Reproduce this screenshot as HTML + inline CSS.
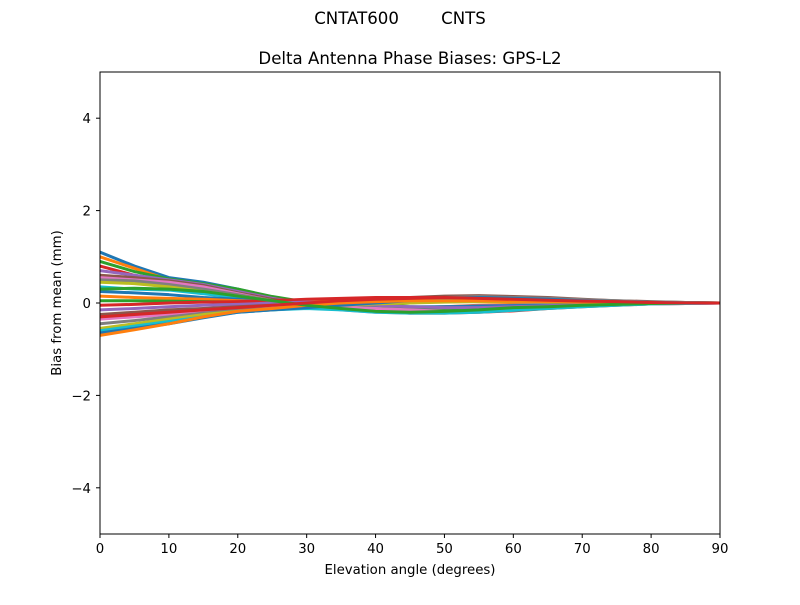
<!DOCTYPE html>
<html><head><meta charset="utf-8"><style>
body{margin:0;background:#fff}
svg text{font-family:"DejaVu Sans","Liberation Sans",sans-serif;fill:#000}
</style></head><body>
<svg id="chart" width="800" height="600" xmlns="http://www.w3.org/2000/svg">
<rect width="800" height="600" fill="#fff"/>
<text x="400" y="24" font-size="16.6" text-anchor="middle" xml:space="preserve">CNTAT600        CNTS</text>
<text x="410" y="64" font-size="16.6" text-anchor="middle">Delta Antenna Phase Biases: GPS-L2</text>
<g id="lines"></g>
<g id="axes"></g>
<rect x="100" y="72" width="620" height="462" fill="none" stroke="#000" stroke-width="1"/>
<text x="410" y="574" font-size="13.3" text-anchor="middle">Elevation angle (degrees)</text>
<text transform="translate(61,303) rotate(-90)" font-size="13.3" text-anchor="middle">Bias from mean (mm)</text>
</svg>
<script>
const elevations=[0,5,10,15,20,25,30,35,40,45,50,55,60,65,70,75,80,85,90];
const xTicks=[0,10,20,30,40,50,60,70,80,90];
const yTicks=[-4,-2,0,2,4];
const yTickLabels=["\u22124","\u22122","0","2","4"];
const s1=[1.1,0.8,0.55,0.45,0.3,0.12,-0.05,-0.12,-0.15,-0.15,-0.12,-0.1,-0.08,-0.05,-0.03,-0.02,-0.01,0,0];
const s2=[1.0,0.75,0.5,0.4,0.28,0.1,-0.03,-0.1,-0.12,-0.1,-0.08,-0.05,-0.03,-0.02,-0.01,0,0,0,0];
const s3=[0.9,0.68,0.52,0.42,0.3,0.14,0.02,-0.05,-0.05,0,0.05,0.08,0.1,0.08,0.06,0.04,0.02,0.01,0];
const s4=[0.8,0.6,0.45,0.35,0.25,0.1,0,-0.1,-0.18,-0.22,-0.22,-0.2,-0.17,-0.12,-0.08,-0.05,-0.02,-0.01,0];
const s5=[0.7,0.6,0.5,0.4,0.25,0.1,-0.02,-0.08,-0.1,-0.1,-0.08,-0.06,-0.05,-0.04,-0.03,-0.02,-0.01,0,0];
const s6=[0.6,0.55,0.48,0.38,0.22,0.08,0,0.05,0.1,0.12,0.15,0.16,0.14,0.12,0.08,0.05,0.03,0.01,0];
const s7=[0.55,0.5,0.45,0.35,0.2,0.05,-0.05,-0.15,-0.2,-0.22,-0.2,-0.15,-0.12,-0.1,-0.07,-0.04,-0.02,-0.01,0];
const s8=[0.5,0.48,0.4,0.3,0.18,0.05,0.02,0.04,0.06,0.08,0.1,0.12,0.12,0.1,0.07,0.05,0.02,0.01,0];
const s9=[0.45,0.42,0.35,0.25,0.15,0.05,-0.02,-0.05,-0.08,-0.1,-0.12,-0.1,-0.08,-0.06,-0.04,-0.02,-0.01,0,0];
const s10=[0.35,0.3,0.28,0.2,0.12,0.04,0,0,0.02,0.04,0.06,0.06,0.05,0.04,0.03,0.02,0.01,0,0];
const s11=[0.25,0.22,0.18,0.12,0.08,0.02,-0.02,-0.05,-0.07,-0.08,-0.08,-0.07,-0.06,-0.05,-0.03,-0.02,-0.01,0,0];
const s12=[0.15,0.12,0.1,0.08,0.05,0.02,0.05,0.08,0.1,0.1,0.1,0.09,0.08,0.06,0.04,0.03,0.01,0,0];
const s13=[0.05,0.05,0.04,0.03,0.02,0,-0.03,-0.06,-0.1,-0.12,-0.14,-0.12,-0.1,-0.08,-0.05,-0.03,-0.01,0,0];
const s14=[-0.05,-0.03,0,0.02,0.03,0.05,0.08,0.1,0.12,0.12,0.12,0.1,0.08,0.06,0.04,0.02,0.01,0,0];
const s15=[-0.15,-0.12,-0.08,-0.05,-0.03,0,0.02,0,-0.05,-0.08,-0.1,-0.1,-0.08,-0.06,-0.04,-0.02,-0.01,0,0];
const s16=[-0.25,-0.2,-0.15,-0.12,-0.08,-0.05,-0.02,0.02,0.05,0.07,0.08,0.08,0.07,0.05,0.04,0.02,0.01,0,0];
const s17=[-0.35,-0.3,-0.25,-0.18,-0.12,-0.08,-0.05,-0.08,-0.12,-0.15,-0.18,-0.16,-0.12,-0.1,-0.07,-0.04,-0.02,-0.01,0];
const s18=[-0.45,-0.38,-0.3,-0.22,-0.15,-0.12,-0.08,-0.02,0.03,0.08,0.12,0.14,0.12,0.1,0.07,0.04,0.02,0.01,0];
const s19=[-0.55,-0.45,-0.35,-0.25,-0.18,-0.15,-0.1,-0.05,-0.02,0,0.02,0.03,0.03,0.02,0.02,0.01,0,0,0];
const s20=[-0.6,-0.5,-0.4,-0.3,-0.2,-0.15,-0.12,-0.15,-0.2,-0.22,-0.22,-0.2,-0.16,-0.12,-0.08,-0.05,-0.02,-0.01,0];
const s21=[-0.65,-0.55,-0.45,-0.32,-0.2,-0.15,-0.1,-0.05,0,0.05,0.1,0.12,0.1,0.08,0.05,0.03,0.01,0,0];
const s22=[-0.7,-0.58,-0.45,-0.3,-0.18,-0.12,-0.05,0,0.03,0.05,0.05,0.05,0.04,0.03,0.02,0.01,0,0,0];
const s23=[0.3,0.32,0.3,0.25,0.15,0.05,-0.05,-0.12,-0.18,-0.2,-0.18,-0.15,-0.1,-0.08,-0.05,-0.03,-0.01,0,0];
const s24=[-0.3,-0.25,-0.2,-0.15,-0.1,-0.05,0,0.05,0.08,0.1,0.12,0.1,0.08,0.06,0.04,0.03,0.01,0,0];
const series=[s1,s2,s3,s4,s5,s6,s7,s8,s9,s10,s11,s12,s13,s14,s15,s16,s17,s18,s19,s20,s21,s22,s23,s24];
const colors=["#1f77b4","#ff7f0e","#2ca02c","#d62728","#9467bd","#8c564b","#e377c2","#7f7f7f","#bcbd22","#17becf"];
const NS="http://www.w3.org/2000/svg";
const X=v=>100+v/90*620;
const Y=v=>303-v*46.2;
const lines=document.getElementById('lines');
series.forEach((s,i)=>{
  const p=document.createElementNS(NS,'polyline');
  p.setAttribute('points',s.map((v,j)=>X(elevations[j])+','+Y(v)).join(' '));
  p.setAttribute('fill','none');
  p.setAttribute('stroke',colors[i%10]);
  p.setAttribute('stroke-width','3');
  p.setAttribute('stroke-linejoin','round');
  
  
  lines.appendChild(p);
});
const axes=document.getElementById('axes');
xTicks.forEach(t=>{
  const l=document.createElementNS(NS,'line');
  l.setAttribute('x1',X(t));l.setAttribute('x2',X(t));l.setAttribute('y1',534);l.setAttribute('y2',538);l.setAttribute('stroke','#000');
  
  
  axes.appendChild(l);
  const tx=document.createElementNS(NS,'text');
  tx.setAttribute('x',X(t));tx.setAttribute('y',553);tx.setAttribute('font-size','13.3');tx.setAttribute('text-anchor','middle');
  tx.textContent=t;
  
  
  axes.appendChild(tx);
});
yTicks.forEach((t,i)=>{
  const l=document.createElementNS(NS,'line');
  l.setAttribute('x1',96);l.setAttribute('x2',100);l.setAttribute('y1',Y(t));l.setAttribute('y2',Y(t));l.setAttribute('stroke','#000');
  
  
  axes.appendChild(l);
  const tx=document.createElementNS(NS,'text');
  tx.setAttribute('x',91);tx.setAttribute('y',Y(t)+5);tx.setAttribute('font-size','13.3');tx.setAttribute('text-anchor','end');
  tx.textContent=yTickLabels[i];
  
  
  axes.appendChild(tx);
});
</script>
</body></html>
